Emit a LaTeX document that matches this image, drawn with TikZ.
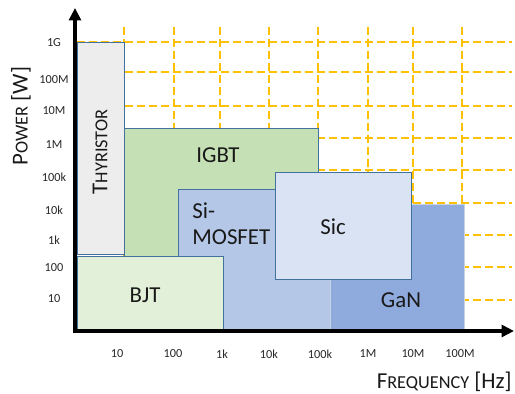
\documentclass[tikz,border=0pt]{standalone}
\usepackage{fontspec}
\setmainfont{Carlito}
\usetikzlibrary{arrows.meta}

\definecolor{gridgold}{HTML}{FFC000}
\definecolor{edgeblue}{HTML}{41719C}
\definecolor{ganedge}{HTML}{C9D3E6}
\definecolor{thyrgray}{HTML}{EDEDED}
\definecolor{igbtgreen}{HTML}{C5E0B4}
\definecolor{bjtgreen}{HTML}{E2F0D9}
\definecolor{mosblue}{HTML}{B4C7E7}
\definecolor{sicblue}{HTML}{DAE3F3}
\definecolor{ganblue}{HTML}{8FAADC}

% fake small caps: first letter full size, the rest scaled down
\newcommand{\capsfake}[2]{#1{\fontsize{10.4}{12}\selectfont #2}}

\begin{document}
\begin{tikzpicture}[
    x=0.02cm, y=-0.02cm,
      grid line/.style={gridgold, line width=0.85pt, dash pattern=on 0.16cm off 0.08cm},
      device/.style={draw=edgeblue, line width=0.55pt},
      axis/.style={line width=2.5pt, -{Triangle[length=0.25cm, width=0.24cm]}},
      tick label/.style={font=\fontsize{7}{8}\selectfont, text=black!85},
      device label/.style={font=\fontsize{13}{15.3}\selectfont, text=black!90},
      axis label/.style={font=\fontsize{13}{15}\selectfont, text=black!90}
  ]
      \useasboundingbox (0,0) rectangle (515,394);

      % Grid
      \foreach \gx in {124,174,220,269,318,368,413,462}
        \draw[grid line] (\gx,27) -- (\gx,331);
      \foreach \gy in {42,72,106,138,170,203,235,267,300}
        \draw[grid line] (77,\gy) -- (512,\gy);

      % Thyristor
      \draw[device, fill=thyrgray] (77,42) rectangle (124,254);
      % IGBT
      \draw[device, fill=igbtgreen] (124,128) rectangle (318,256);
      % Si-MOSFET
      \draw[device, fill=mosblue] (178,189) rectangle (330,331);
      % GaN
      \draw[draw=ganedge, fill=ganblue, line width=0.5pt] (330,204) rectangle (464,331);
      % SiC
      \draw[device, fill=sicblue] (275,172) rectangle (411,279);
      % BJT
      \draw[device, fill=bjtgreen] (77,256) rectangle (223,331);

      % Labels
      \node[device label, rotate=90] (thyristor) at (100,152) {\capsfake{T}{HYRISTOR}};
      \node[device label] (igbt) at (218,155) {IGBT};
      \node[device label, align=left, anchor=north west, inner sep=0pt] (mosfet) at (192,202) {Si-\\MOSFET};
      \node[device label] (sic) at (333,227) {Sic};
      \node[device label] (gan) at (401,300) {GaN};
      \node[device label] (bjt) at (145,295) {BJT};

      % Axes
      \coordinate (ytop) at (75,8);
      \coordinate (xend) at (514,331);
      \draw[axis] (75,333) -- (ytop);
      \draw[axis] (73,331) -- (xend);

      % Tick labels
      \foreach \lab/\ty [count=\i] in {1G/43,100M/80,10M/111,1M/145,100k/177,10k/210,1k/240,100/268,10/299}
        \node[tick label] (ytick\i) at (54,\ty) {\lab};
      \foreach \lab/\tx [count=\i] in {10/117,100/173,1k/222,10k/269,100k/320,1M/368,10M/413,100M/460}
        \node[tick label] (xtick\i) at (\tx,354) {\lab};

      % Axis titles
      \node[axis label, rotate=90] (power) at (21,116) {\capsfake{P}{OWER} [W]};
      \node[axis label, anchor=east, inner sep=0pt] (freq) at (512,382) {\capsfake{F}{REQUENCY} [Hz]};
  \end{tikzpicture}
\end{document}
